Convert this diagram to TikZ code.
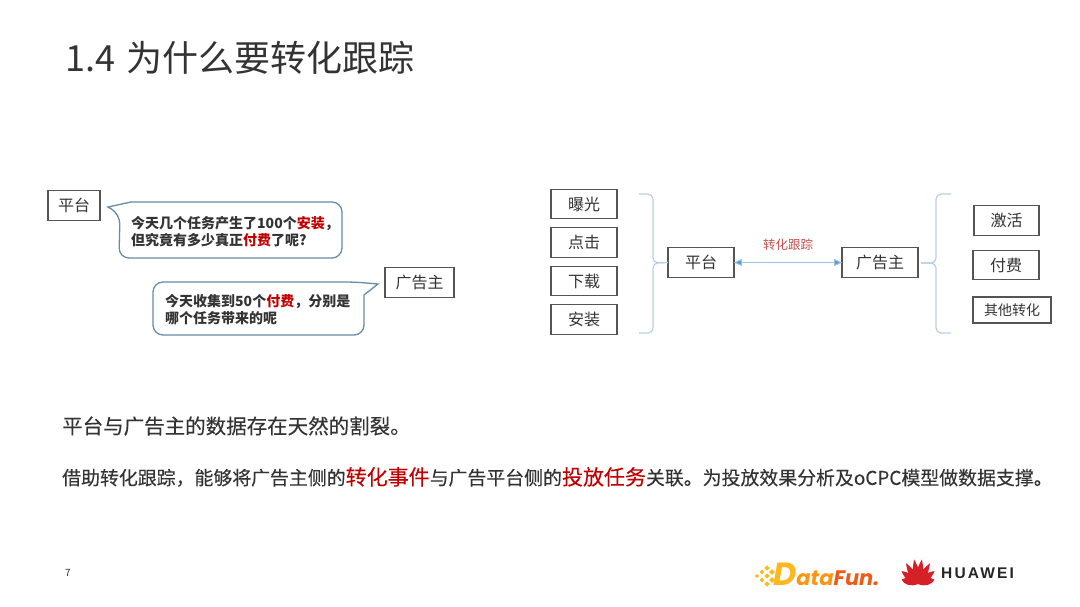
\documentclass[tikz,border=0pt]{standalone}
\usepackage{fontspec}
\setmainfont{Noto Sans CJK SC}
\newfontfamily\medfont[FakeBold=0.2]{Noto Sans CJK SC}
\newfontfamily\logofont{Poppins}
\newfontfamily\brandfont[LetterSpace=14]{Liberation Sans}
\usepackage{tikz}
\usetikzlibrary{positioning,arrows.meta}
\definecolor{inkgray}{RGB}{51,51,51}
\definecolor{edgegray}{RGB}{85,85,85}
\definecolor{hotred}{RGB}{192,0,0}
\definecolor{bubbleblue}{RGB}{104,139,168}
\definecolor{bracketblue}{RGB}{184,207,227}
\definecolor{linkblue}{RGB}{91,155,213}
\definecolor{linkred}{RGB}{192,80,77}
\definecolor{dataorange}{RGB}{250,150,20}
\definecolor{datayellow}{RGB}{252,184,30}
\definecolor{datared}{RGB}{240,90,20}
\definecolor{hwred}{RGB}{214,32,40}
\newcommand{\px}[1]{\fontsize{#1}{#1}\selectfont}
\newcommand{\hot}[1]{\textcolor{hotred}{#1}}
\tikzset{
  tagbox/.style = {rectangle, draw=edgegray, line width=1.1pt, inner sep=0pt, outer sep=0pt,
                   minimum height=29.5pt, text=inkgray, font=\px{16}},
  bubble/.style = {draw=bubbleblue, line width=1.3pt, fill=white},
  bubtext/.style = {anchor=west, align=left, inner sep=0pt, text=black!80, font=\fontsize{14}{17.5}\selectfont\bfseries},
  bracket/.style = {draw=bracketblue, line width=1.2pt, rounded corners=5pt},
  arr/.style = {{Triangle[length=8pt,width=7pt,fill=linkblue]}-{Triangle[length=8pt,width=7pt,fill=linkblue]}, draw=linkblue!60, line width=0.8pt},
  line/.style = {anchor=west, inner sep=0pt, text=inkgray}
}
\begin{document}
\begin{tikzpicture}[x=1pt,y=-1pt,node distance=9pt]
  \useasboundingbox (0,0) rectangle (1080,607);
  \node[line,font=\px{36}] (title) at (65,58) {1.4\hspace{3pt} 为什么要转化跟踪};

  % left half: the two speech bubbles
  \node[tagbox,minimum width=52pt] (ptA) at (74,205.5) {平台};
  \node[tagbox,minimum width=69pt] (ggA) at (419.5,282.5) {广告主};
  \draw[bubble] (120,214) -- (108,207) -- (131,202) [rounded corners=10pt] -- (342,202) -- (342,258) -- (119,258) -- cycle;
  \draw[bubble] (355,282) -- (378,284) -- (364,295) [rounded corners=10pt] -- (364,335) -- (153,335) -- (153,282) -- cycle;
  \node[bubtext] (askA) at (131,231.5) {今天几个任务产生了100个\hot{安装}，\\但究竟有多少真正\hot{付费}了呢?};
  \node[bubtext] (askB) at (165,309.5) {今天收集到50个\hot{付费}，分别是\\哪个任务带来的呢};

  % right half: events on both sides of the link
  \node[tagbox,minimum width=66pt] (bg) at (584,204) {曝光};
  \node[tagbox,minimum width=66pt,below=of bg] (dj) {点击};
  \node[tagbox,minimum width=66pt,below=of dj] (xz) {下载};
  \node[tagbox,minimum width=66pt,below=of xz] (az) {安装};
  \node[tagbox,minimum width=66pt] (ptB) at (701,262.5) {平台};
  \node[tagbox,minimum width=76pt] (ggB) at (880,262.5) {广告主};
  \node[tagbox,minimum width=65pt] (jh) at (1006.5,220.5) {激活};
  \node[tagbox,minimum width=66pt] (ff) at (1006,265) {付费};
  \node[tagbox,minimum width=78pt,minimum height=26pt,font=\px{14}] (qt) at (1012,310) {其他转化};
  \draw[arr] (ptB) -- (ggB) node[midway,above=8pt,text=linkred,font=\px{12.5}] (zh) {转化跟踪};

  \coordinate (lTop) at (639,194);
  \coordinate (lBot) at (639,333);
  \coordinate (rTop) at (951,194);
  \coordinate (rBot) at (951,333);
  \draw[bracket] (lTop) -- (653,194) -- (653,263) -- (ptB.west);
  \draw[bracket] (lBot) -- (653,333) -- (653,263) -- (ptB.west);
  \draw[bracket] (rTop) -- (936,194) -- (936,263) -- (921,263);
  \draw[bracket] (rBot) -- (936,333) -- (936,263) -- (921,263);

  % bottom text
  \node[line,font=\medfont\px{20.5}] (noteA) at (62,426) {平台与广告主的数据存在天然的割裂。};
  \node[line,font=\medfont\px{18.9}] (noteB) at (62,477) {借助转化跟踪，能够将广告主侧的{\px{21}\hot{转化事件}}与广告平台侧的{\px{21}\hot{投放任务}}关联。为投放效果分析及oCPC模型做数据支撑。};
  \node[line,font=\px{10}] (page) at (65,573) {7};

  % logos
  \foreach \dx/\dy/\sz in {0/0/3,5/-4/3.4,5/4/3.4,10/-8/3.6,10/0/3.8,10/8/3.6,15/-4/4,15/4/4}
    \fill[datayellow,rotate around={45:(757+\dx,576+\dy)}] (757+\dx-\sz/2,576+\dy-\sz/2) rectangle ++(\sz,\sz);
  \node[line,font=\logofont\bfseries\itshape] (df) at (773,574) {\textcolor{datayellow}{\px{32}D}\textcolor{dataorange}{\px{21}ata}\textcolor{datared}{\px{21}Fun.}};
  \foreach \ang/\len in {-75/17,-52/21,-30/24,-9/25,9/25,30/24,52/21,75/17}
    \fill[hwred,rotate around={\ang:(918,584)}] (918,584) .. controls (913,578) and (914,570) .. (918,584-\len) .. controls (922,570) and (923,578) .. (918,584);
  \node[line,text=black!85,font=\brandfont\bfseries\px{15.5}] (hw) at (941,573) {HUAWEI};
\end{tikzpicture}
\end{document}
